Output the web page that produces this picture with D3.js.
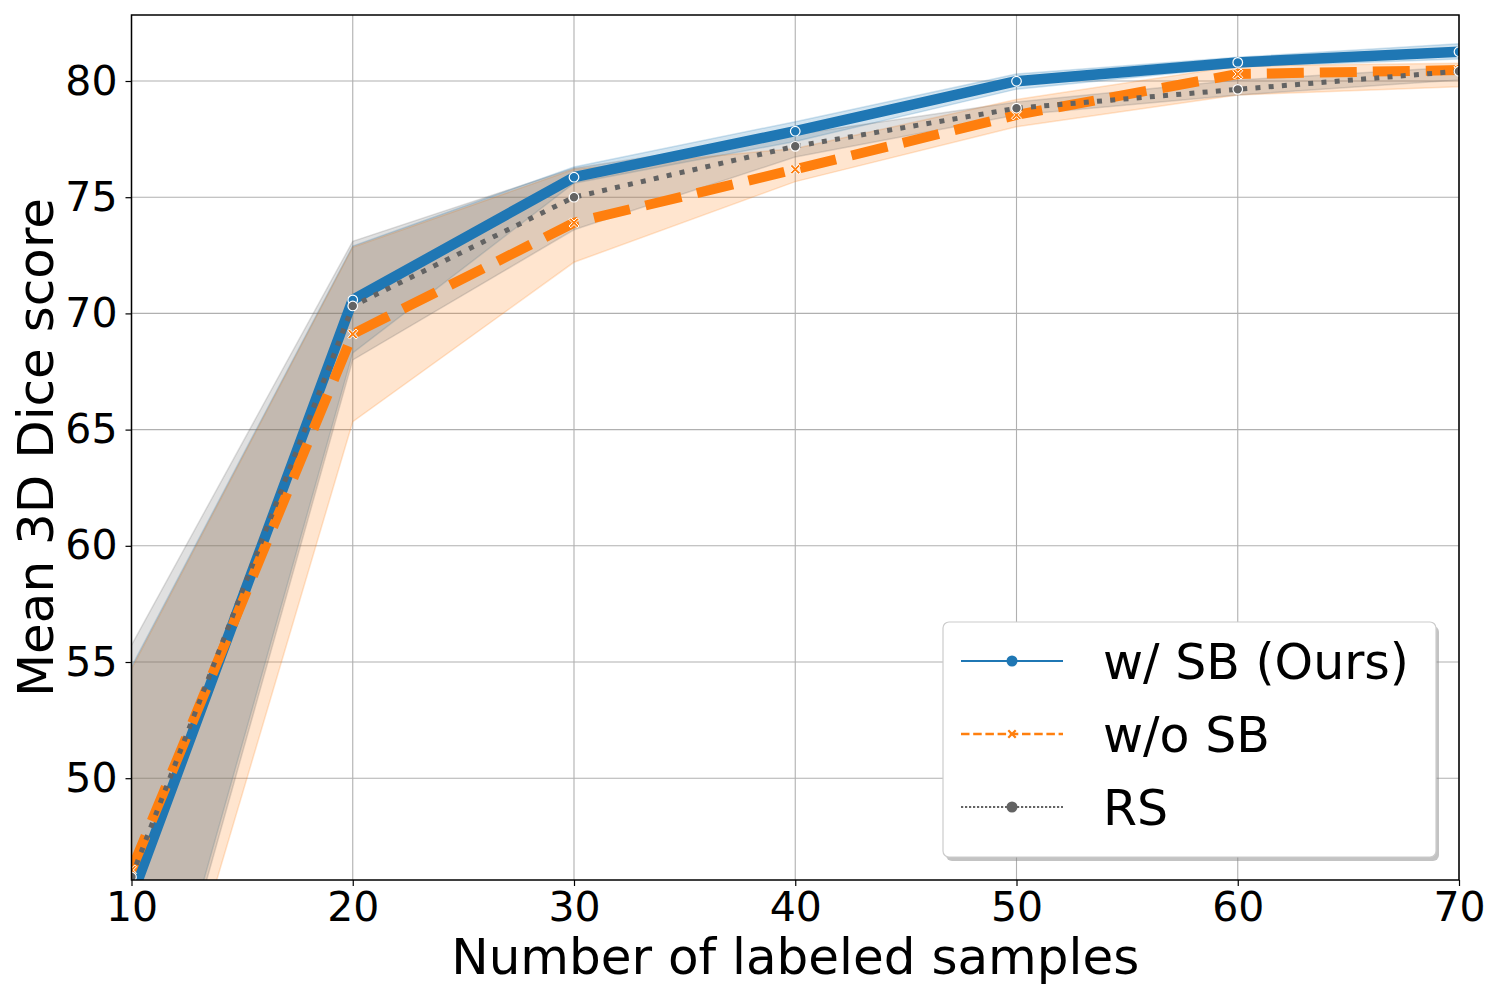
<!DOCTYPE html>
<html>
<head>
<meta charset="utf-8">
<script src="https://cdn.jsdelivr.net/npm/d3@7"></script>
<style>
  body { margin: 0; background: #fff; }
  svg { font-family: "DejaVu Sans", sans-serif; }
</style>
</head>
<body>
<div id="chart"></div>
<script>
// x values and tick labels
var samples = [10, 20, 30, 40, 50, 60, 70];
var xTicks = [10, 20, 30, 40, 50, 60, 70];
var yTicks = [50, 55, 60, 65, 70, 75, 80];

// w/ SB (Ours)
var sbMean = [44.87, 70.58, 75.86, 77.84, 79.99, 80.80, 81.26];
var sbLo   = [34.6, 68.3, 75.6, 77.4, 79.65, 80.6, 80.95];
var sbHi   = [54.8, 72.9, 76.3, 78.25, 80.3, 81.02, 81.6];

// w/o SB
var noSbMean = [46.05, 69.11, 73.90, 76.20, 78.54, 80.30, 80.47];
var noSbLo   = [33.25, 65.34, 72.2, 75.67, 78.03, 79.4, 79.75];
var noSbHi   = [54.7, 72.85, 76.2, 77.1, 79.2, 80.65, 80.76];

// RS
var rsMean = [45.75, 70.32, 75.0, 77.19, 78.83, 79.64, 80.42];
var rsLo   = [34.1, 68.0, 73.6, 76.73, 78.54, 79.4, 80.04];
var rsHi   = [55.73, 73.1, 76.25, 77.7, 79.1, 80.04, 80.6];

var seriesNames = ["w/ SB (Ours)", "w/o SB", "RS"];

var width = 1500, height = 1000;
var margin = {top: 15, right: 41, bottom: 120, left: 131.5};

var svg = d3.select("#chart").append("svg")
	.attr("width", width)
	.attr("height", height);

var x = d3.scaleLinear().domain([10, 70]).range([margin.left, width - margin.right]);
var y = d3.scaleLinear().domain([45.62, 82.84]).range([height - margin.bottom, margin.top]);

var series = [
	{name: seriesNames[0], mean: sbMean, lo: sbLo, hi: sbHi, color: "#1f77b4", lw: 10.5, dash: null, marker: "circle"},
	{name: seriesNames[1], mean: noSbMean, lo: noSbLo, hi: noSbHi, color: "#ff7f0e", lw: 10, dash: "37,16", marker: "x"},
	{name: seriesNames[2], mean: rsMean, lo: rsLo, hi: rsHi, color: "#636363", lw: 5, dash: "5,8.25", marker: "circle"}
];

svg.append("clipPath").attr("id", "plotclip")
	.append("rect")
	.attr("x", margin.left)
	.attr("y", margin.top)
	.attr("width", x(70) - x(10))
	.attr("height", y.range()[0] - y.range()[1]);

// grid
var grid = svg.append("g");
grid.selectAll(".gx").data(xTicks).enter().append("line")
	.attr("x1", function(d){ return x(d); })
	.attr("x2", function(d){ return x(d); })
	.attr("y1", y.range()[0])
	.attr("y2", y.range()[1])
	.attr("stroke", "#b0b0b0")
	.attr("stroke-width", 1.1);
grid.selectAll(".gy").data(yTicks).enter().append("line")
	.attr("x1", x.range()[0])
	.attr("x2", x.range()[1])
	.attr("y1", function(d){ return y(d); })
	.attr("y2", function(d){ return y(d); })
	.attr("stroke", "#b0b0b0")
	.attr("stroke-width", 1.1);

var plot = svg.append("g").attr("clip-path", "url(#plotclip)");

// bands first (below lines)
series.forEach(function(s) {
	var area = d3.area()
		.x(function(d, i){ return x(samples[i]); })
		.y0(function(d, i){ return y(s.lo[i]); })
		.y1(function(d, i){ return y(s.hi[i]); });
	plot.append("path")
		.datum(s.mean)
		.attr("d", area)
		.attr("fill", s.color)
		.attr("fill-opacity", 0.2)
		.attr("stroke", s.color)
		.attr("stroke-opacity", 0.2)
		.attr("stroke-width", 1.5);
});

function xMarker(r) {
	// filled X shape like matplotlib "X"
	var a = r * 0.35;
	var pts = [[-r, -r + a], [-r + a, -r], [0, -a], [r - a, -r], [r, -r + a], [a, 0],
		[r, r - a], [r - a, r], [0, a], [-r + a, r], [-r, r - a], [-a, 0]];
	return "M" + pts.map(function(p){ return p.join(","); }).join("L") + "Z";
}

var line = d3.line()
	.x(function(d, i){ return x(samples[i]); })
	.y(function(d){ return y(d); });

series.forEach(function(s) {
	var path = plot.append("path")
		.datum(s.mean)
		.attr("d", line)
		.attr("fill", "none")
		.attr("stroke", s.color)
		.attr("stroke-width", s.lw)
		.attr("stroke-linejoin", "round");
	if (s.dash) path.attr("stroke-dasharray", s.dash).attr("stroke-linecap", "butt");
	else path.attr("stroke-linecap", "round");

	var mk = plot.append("g");
	s.mean.forEach(function(v, i) {
		if (s.marker === "x") {
			mk.append("path")
				.attr("d", xMarker(5))
				.attr("transform", "translate(" + x(samples[i]) + "," + y(v) + ")")
				.attr("fill", s.color)
				.attr("stroke", "#fff")
				.attr("stroke-width", 1);
		} else {
			mk.append("circle")
				.attr("cx", x(samples[i]))
				.attr("cy", y(v))
				.attr("r", 4.8)
				.attr("fill", s.color)
				.attr("stroke", "#fff")
				.attr("stroke-width", 1.2);
		}
	});
});

// axes
var xAxis = svg.append("g")
	.attr("transform", "translate(0," + y.range()[0] + ")")
	.call(d3.axisBottom(x).tickValues(xTicks).tickSize(6).tickPadding(6).tickFormat(d3.format("d")));
var yAxis = svg.append("g")
	.attr("transform", "translate(" + margin.left + ",0)")
	.call(d3.axisLeft(y).tickValues(yTicks).tickSize(6).tickPadding(8).tickFormat(d3.format("d")));

[xAxis, yAxis].forEach(function(ax) {
	ax.select(".domain").remove();
	ax.selectAll(".tick line").attr("stroke", "#000").attr("stroke-width", 1.2);
	ax.selectAll(".tick text")
		.attr("fill", "#000")
		.style("font-size", "41px")
		.style("font-family", "DejaVu Sans");
});

// frame
svg.append("rect")
	.attr("x", margin.left)
	.attr("y", margin.top)
	.attr("width", x(70) - x(10))
	.attr("height", y.range()[0] - y.range()[1])
	.attr("fill", "none")
	.attr("stroke", "#000")
	.attr("stroke-width", 1.5);

// axis labels
svg.append("text")
	.attr("x", (x(10) + x(70)) / 2)
	.attr("y", 974)
	.attr("text-anchor", "middle")
	.style("font-size", "50px")
	.text("Number of labeled samples");
svg.append("text")
	.attr("transform", "translate(53," + ((y.range()[0] + y.range()[1]) / 2) + ") rotate(-90)")
	.attr("text-anchor", "middle")
	.style("font-size", "50px")
	.text("Mean 3D Dice score");

// legend
var lg = svg.append("g").attr("transform", "translate(943,622)");
var lgW = 493, lgH = 235;
lg.append("rect")
	.attr("x", 3).attr("y", 4)
	.attr("width", lgW).attr("height", lgH)
	.attr("rx", 6)
	.attr("fill", "#888").attr("fill-opacity", 0.5);
lg.append("rect")
	.attr("width", lgW).attr("height", lgH)
	.attr("rx", 6)
	.attr("fill", "#fff")
	.attr("stroke", "#cccccc")
	.attr("stroke-width", 1.2);

series.forEach(function(s, i) {
	var ly = 39 + i * 73;
	var ln = lg.append("line")
		.attr("x1", 18).attr("x2", 120)
		.attr("y1", ly).attr("y2", ly)
		.attr("stroke", s.color)
		.attr("stroke-width", s.marker === "x" ? 2.4 : 2.2);
	if (i === 1) ln.attr("stroke-dasharray", "8.5,3.7");
	if (i === 2) ln.attr("stroke-dasharray", "2.2,1.8").attr("stroke-width", 2);
	if (s.marker === "x") {
		lg.append("path")
			.attr("d", xMarker(4.5))
			.attr("transform", "translate(69," + ly + ")")
			.attr("fill", s.color);
	} else {
		lg.append("circle")
			.attr("cx", 69).attr("cy", ly).attr("r", 5.5)
			.attr("fill", s.color);
	}
	lg.append("text")
		.attr("x", 160)
		.attr("y", ly + 18)
		.style("font-size", "49px")
		.text(s.name);
});
</script>
</body>
</html>
